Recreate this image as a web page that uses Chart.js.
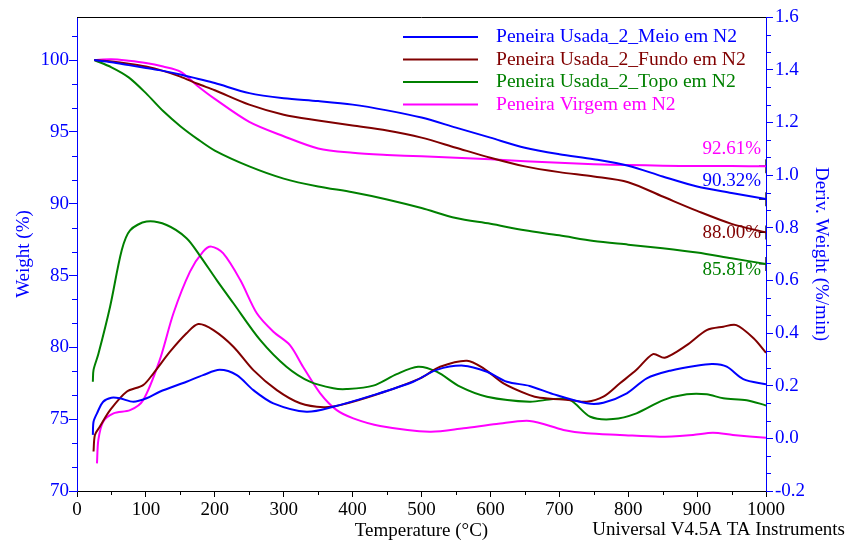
<!DOCTYPE html>
<html>
<head>
<meta charset="utf-8">
<script src="https://cdn.jsdelivr.net/npm/chart.js@4.4.0/dist/chart.umd.min.js"></script>
<style>
  html, body { margin: 0; padding: 0; background: #fff; }
  #wrap { width: 847px; height: 542px; }
</style>
</head>
<body>
<div id="wrap"><canvas id="grafico"></canvas></div>
<script>
// Nomes das amostras (ordem da legenda)
const amostras = ['Peneira Usada_2_Meio em N2', 'Peneira Usada_2_Fundo em N2', 'Peneira Usada_2_Topo em N2', 'Peneira Virgem em N2'];
const cores = ['#0000ff', '#800000', '#008000', '#ff00ff'];

// Curvas de perda de massa (Weight %), temperatura comum
const tempPeso = [25, 50, 75, 100, 125, 150, 175, 200, 250, 300, 350, 400, 450, 500, 550, 600, 650, 700, 750, 800, 850, 900, 950, 1000];
const pesoMeio = [100, 99.85, 99.65, 99.45, 99.25, 99.0, 98.7, 98.4, 97.7, 97.35, 97.15, 96.9, 96.5, 96.0, 95.3, 94.6, 93.9, 93.45, 93.1, 92.65, 91.9, 91.2, 90.75, 90.32];
const pesoFundo = [100, 99.9, 99.75, 99.55, 99.25, 98.85, 98.35, 97.9, 96.9, 96.2, 95.8, 95.45, 95.1, 94.6, 93.9, 93.2, 92.6, 92.2, 91.9, 91.5, 90.5, 89.5, 88.6, 88.00];
const pesoTopo = [100, 99.5, 98.8, 97.7, 96.45, 95.4, 94.5, 93.7, 92.6, 91.75, 91.2, 90.8, 90.3, 89.7, 89.0, 88.6, 88.15, 87.8, 87.4, 87.15, 86.9, 86.6, 86.2, 85.81];
const pesoVirgem = [100, 100.05, 99.95, 99.8, 99.55, 99.2, 98.2, 97.3, 95.7, 94.7, 93.85, 93.55, 93.4, 93.3, 93.2, 93.1, 92.95, 92.85, 92.75, 92.7, 92.65, 92.62, 92.62, 92.61];

// Resíduo final em 1000 °C
const residuoFinal = [90.32, 88.00, 85.81, 92.61];

// Curvas da derivada (Deriv. Weight %/min)
const tempDerivMeio = [23, 24, 29, 38, 50, 62, 82, 101, 120, 159, 183, 207, 232, 256, 285, 333, 372, 430, 488, 522, 561, 595, 624, 657, 691, 740, 764, 798, 827, 861, 899, 923, 943, 967, 1000];
const derivMeio = [0.013, 0.063, 0.095, 0.139, 0.154, 0.152, 0.139, 0.152, 0.177, 0.215, 0.24, 0.26, 0.24, 0.183, 0.133, 0.101, 0.12, 0.164, 0.215, 0.26, 0.276, 0.253, 0.215, 0.199, 0.168, 0.133, 0.135, 0.171, 0.228, 0.257, 0.276, 0.282, 0.272, 0.225, 0.205];

const tempDerivFundo = [24, 26, 33, 48, 72, 96, 111, 135, 159, 176, 198, 227, 256, 290, 324, 358, 382, 440, 498, 527, 566, 590, 619, 657, 672, 716, 740, 764, 788, 812, 836, 853, 885, 914, 938, 957, 982, 1000];
const derivFundo = [-0.05, 0.013, 0.044, 0.107, 0.177, 0.202, 0.247, 0.329, 0.399, 0.434, 0.411, 0.348, 0.259, 0.183, 0.133, 0.118, 0.126, 0.171, 0.228, 0.272, 0.295, 0.266, 0.209, 0.164, 0.154, 0.145, 0.139, 0.158, 0.209, 0.26, 0.32, 0.306, 0.354, 0.411, 0.424, 0.43, 0.38, 0.325];

const tempDerivTopo = [23, 24, 31, 48, 65, 77, 101, 130, 159, 178, 203, 227, 266, 304, 338, 372, 391, 430, 464, 495, 522, 556, 595, 657, 691, 716, 745, 778, 812, 851, 885, 914, 938, 972, 1000];
const derivTopo = [0.215, 0.26, 0.32, 0.50, 0.715, 0.79, 0.823, 0.81, 0.76, 0.695, 0.60, 0.513, 0.373, 0.272, 0.215, 0.19, 0.187, 0.2, 0.244, 0.272, 0.253, 0.196, 0.158, 0.139, 0.149, 0.145, 0.082, 0.073, 0.095, 0.145, 0.167, 0.167, 0.152, 0.145, 0.125];

const tempDerivVirgem = [29, 31, 38, 53, 77, 96, 120, 140, 164, 183, 195, 212, 237, 261, 285, 309, 328, 353, 377, 401, 440, 512, 561, 609, 657, 706, 740, 788, 846, 894, 923, 952, 1000];
const derivVirgem = [-0.095, -0.006, 0.063, 0.095, 0.107, 0.145, 0.297, 0.475, 0.633, 0.709, 0.728, 0.703, 0.601, 0.475, 0.405, 0.354, 0.272, 0.171, 0.107, 0.076, 0.047, 0.025, 0.038, 0.054, 0.066, 0.032, 0.019, 0.013, 0.006, 0.013, 0.021, 0.013, 0.002];

const FONTE = '"Liberation Serif", "Times New Roman", serif';

// Junta x e y em pontos
const pontos = (xs, ys) => xs.map((x, i) => ({ x: x, y: ys[i] }));

const curva = (label, cor, dados, eixo) => ({
    type: 'line',
    label: label,
    data: dados,
    yAxisID: eixo,
    borderColor: cor,
    backgroundColor: cor,
    borderWidth: 2,
    pointRadius: 0,
    fill: false,
    tension: 0.3
});

const pesos = [pesoMeio, pesoFundo, pesoTopo, pesoVirgem];
const derivadas = [[tempDerivMeio, derivMeio], [tempDerivFundo, derivFundo], [tempDerivTopo, derivTopo], [tempDerivVirgem, derivVirgem]];

const datasets = [];
pesos.forEach((p, i) => datasets.push(curva(amostras[i], cores[i], pontos(tempPeso, p), 'y')));
derivadas.forEach((d, i) => datasets.push(curva(amostras[i], cores[i], pontos(d[0], d[1]), 'y2')));
// Cruzes marcando o resíduo final
datasets.push({
    type: 'scatter',
    label: 'residuo',
    data: residuoFinal.map(v => ({ x: 1000, y: v })),
    yAxisID: 'y',
    pointStyle: 'cross',
    pointRadius: 7,
    borderColor: '#000',
    borderWidth: 1.3
});

// Deslocamento vertical de cada rótulo de resíduo em relação à cruz
const deslocRotulo = [-18, 1, 6, -17];

// Plugin para desenhar legenda, rótulos, borda superior e ticks menores
const extras = {
    id: 'extras',
    afterDraw(chart) {
        const ctx = chart.ctx;
        const area = chart.chartArea;
        const sx = chart.scales.x, sy = chart.scales.y, sy2 = chart.scales.y2;
        ctx.save();

        // linha superior
        ctx.strokeStyle = '#000';
        ctx.lineWidth = 1;
        ctx.beginPath();
        ctx.moveTo(area.left, area.top + 0.5);
        ctx.lineTo(area.right, area.top + 0.5);
        ctx.stroke();

        // ticks menores
        const menor = (escala, valores, cor, dir) => {
            ctx.strokeStyle = cor;
            ctx.beginPath();
            valores.forEach(v => {
                if (escala.axis === 'x') {
                    const px = Math.round(escala.getPixelForValue(v)) + 0.5;
                    ctx.moveTo(px, area.bottom);
                    ctx.lineTo(px, area.bottom + 4);
                } else {
                    const py = Math.round(escala.getPixelForValue(v)) + 0.5;
                    const x0 = dir < 0 ? area.left : area.right;
                    ctx.moveTo(x0, py);
                    ctx.lineTo(x0 + dir * 5, py);
                }
            });
            ctx.stroke();
        };
        const mx = [], my = [], my2 = [];
        for (let v = 50; v < 1000; v += 100) mx.push(v);
        for (let i = 0; i <= 19; i++) { if (i % 3) my.push(70 + i * 5 / 3); }
        for (let i = 0; i <= 27; i++) { if (i % 3) my2.push(-0.2 + i * 0.2 / 3); }
        menor(sx, mx, '#000', 1);
        menor(sy, my, '#0000ff', -1);
        menor(sy2, my2, '#0000ff', 1);

        ctx.textBaseline = 'middle';

        // legenda
        ctx.font = '19.6px ' + FONTE;
        amostras.forEach((nome, i) => {
            const yy = 37 + i * 22.5;
            ctx.strokeStyle = cores[i];
            ctx.lineWidth = 2;
            ctx.beginPath();
            ctx.moveTo(403, yy);
            ctx.lineTo(478, yy);
            ctx.stroke();
            ctx.fillStyle = cores[i];
            ctx.textAlign = 'left';
            ctx.fillText(nome, 496, yy);
        });

        // rótulos de resíduo
        ctx.font = '19px ' + FONTE;
        ctx.textAlign = 'right';
        residuoFinal.forEach((v, i) => {
            ctx.fillStyle = cores[i];
            ctx.fillText(v.toFixed(2) + '%', area.right - 5, sy.getPixelForValue(v) + deslocRotulo[i]);
        });

        // assinatura do software
        ctx.fillStyle = '#000';
        ctx.fillText('Universal V4.5A TA Instruments', 845, 530);
        ctx.restore();
    }
};

new Chart(document.getElementById('grafico'), {
    data: { datasets: datasets },
    options: {
        responsive: true,
        maintainAspectRatio: false,
        animation: false,
        layout: { padding: { top: 17, left: 0, right: 0, bottom: 0 } },
        plugins: {
            legend: { display: false },
            tooltip: { enabled: false }
        },
        scales: {
            x: {
                type: 'linear',
                min: 0,
                max: 1000,
                afterFit: s => { s.height = 51; },
                border: { color: '#000', width: 1 },
                grid: { drawOnChartArea: false, drawTicks: true, tickLength: 6, color: '#000' },
                ticks: { stepSize: 100, color: '#000', padding: 2, maxRotation: 0, font: { family: FONTE, size: 19 }, callback: v => String(v) },
                title: { display: true, text: 'Temperature (°C)', color: '#000', padding: { top: 0, bottom: 0 }, font: { family: FONTE, size: 19 } }
            },
            y: {
                type: 'linear',
                position: 'left',
                min: 70,
                max: 103,
                afterFit: s => { s.width = 77; },
                border: { color: '#0000ff', width: 1 },
                grid: { drawOnChartArea: false, drawTicks: true, tickLength: 8, color: '#0000ff' },
                ticks: { stepSize: 5, includeBounds: false, color: '#0000ff', padding: 0, font: { family: FONTE, size: 19 } },
                title: { display: true, text: 'Weight (%)', color: '#0000ff', padding: { top: 13, bottom: 13 }, font: { family: FONTE, size: 19 } }
            },
            y2: {
                type: 'linear',
                position: 'right',
                min: -0.2,
                max: 1.6,
                afterFit: s => { s.width = 81; },
                border: { color: '#0000ff', width: 1 },
                grid: { drawOnChartArea: false, drawTicks: true, tickLength: 7, color: '#0000ff' },
                ticks: { stepSize: 0.2, color: '#0000ff', padding: 2, font: { family: FONTE, size: 19 }, callback: v => v.toFixed(1) },
                title: { display: true, text: 'Deriv. Weight (%/min)', color: '#0000ff', padding: { top: 15, bottom: 15 }, font: { family: FONTE, size: 19 } }
            }
        }
    },
    plugins: [extras]
});
</script>
</body>
</html>
